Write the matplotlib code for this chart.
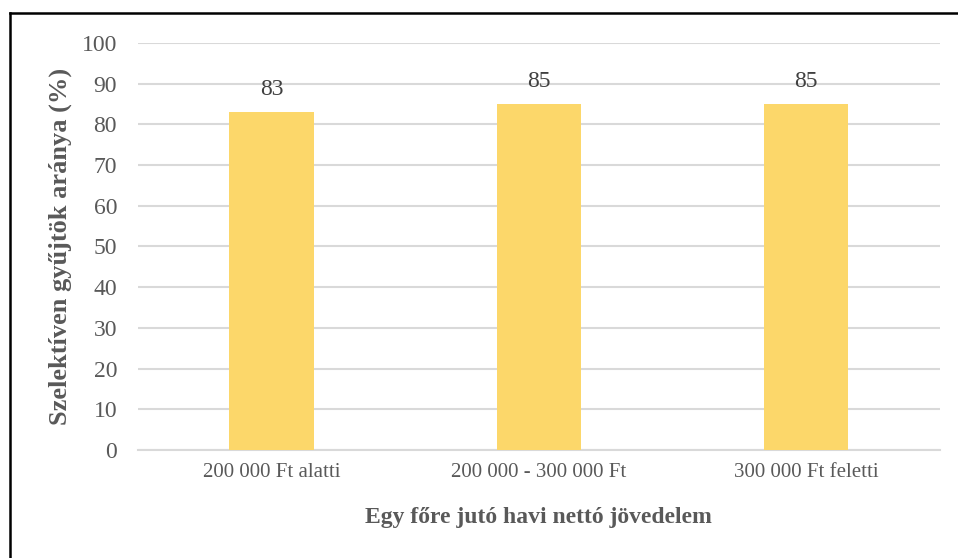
import matplotlib.pyplot as plt
from matplotlib.lines import Line2D

plt.rcParams['font.family'] = ['Liberation Serif', 'DejaVu Serif']

categories = ["200 000 Ft alatti", "200 000 - 300 000 Ft", "300 000 Ft feletti"]
values = [83, 85, 85]
yticks = [0, 10, 20, 30, 40, 50, 60, 70, 80, 90, 100]

text_color = "#595959"
bar_color = "#FCD76A"
grid_color = "#D9D9D9"

fig = plt.figure(figsize=(9.58, 5.58), dpi=100)
ax = fig.add_axes([0.144, 0.1935, 0.837, 0.7295])

x = range(len(categories))
ax.bar(x, values, width=0.315, color=bar_color, zorder=3)
for xi, v in zip(x, values):
    ax.text(xi, v + 3, f"{v}", ha="center", va="bottom", fontsize=17, color="#404040")

ax.set_xlim(-0.5, len(categories) - 0.5)
ax.set_ylim(0, 100)
ax.set_yticks(yticks)
ax.set_xticks(list(x))
ax.set_xticklabels(categories)
ax.tick_params(axis="both", length=0, colors=text_color)
ax.tick_params(axis="x", labelsize=15, pad=9)
ax.tick_params(axis="y", labelsize=17, pad=15)
ax.grid(axis="y", color=grid_color, linewidth=1.5, zorder=0)
for s in ["top", "right", "left"]:
    ax.spines[s].set_visible(False)
ax.spines["bottom"].set_color(grid_color)
ax.spines["bottom"].set_linewidth(1.5)

ax.set_xlabel("Egy főre jutó havi nettó jövedelem", fontsize=17, fontweight="bold",
              color=text_color, labelpad=18)
ax.set_ylabel("Szelektíven gyűjtök aránya (%)", fontsize=19, fontweight="bold",
              color=text_color, labelpad=7)

# outer frame: left and top edges only
fig.add_artist(Line2D([10 / 958, 10 / 958], [0, 1 - 13 / 558], transform=fig.transFigure,
                      color="black", linewidth=1.8))
fig.add_artist(Line2D([10 / 958, 1], [1 - 13 / 558, 1 - 13 / 558], transform=fig.transFigure,
                      color="black", linewidth=1.8))

fig.savefig("out.png", dpi=100)
